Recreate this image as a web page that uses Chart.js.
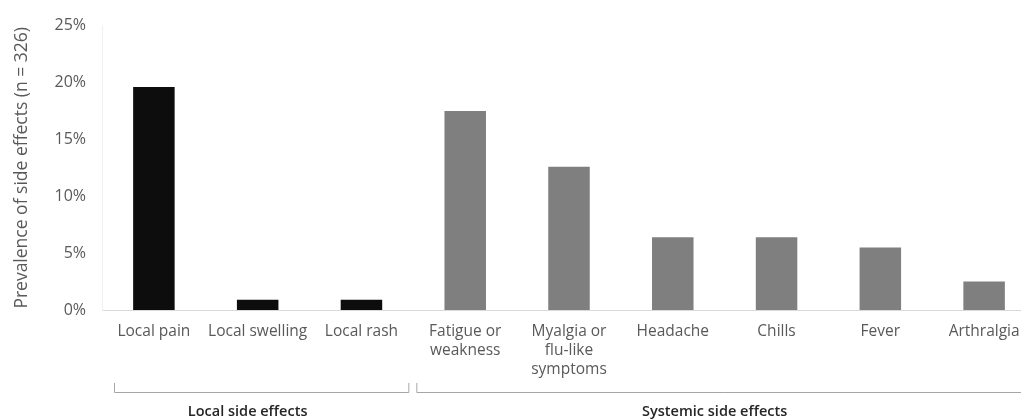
<!DOCTYPE html>
<html>
<head>
<meta charset="utf-8">
<script src="https://cdn.jsdelivr.net/npm/chart.js@4"></script>
<style>
  body { margin: 0; background: #fff; overflow: hidden; }
  #wrap { width: 1036px; height: 420px; }
</style>
</head>
<body>
<div id="wrap"><canvas id="sideEffects"></canvas></div>
<script>
// Prevalence of side effects (n = 326)
const categories = [
    'Local pain', 'Local swelling', 'Local rash',
    ['Fatigue or', 'weakness'], ['Myalgia or', 'flu-like', 'symptoms'],
    'Headache', 'Chills', 'Fever', 'Arthralgia'
];
const prevalence = [19.6, 0.9, 0.9, 17.5, 12.6, 6.4, 6.4, 5.5, 2.5];
const groupNames = ['Local side effects', 'Systemic side effects'];
const groupOf = [0, 0, 0, 1, 1, 1, 1, 1, 1];
const groupColors = ['#0d0d0d', '#7f7f7f'];
const yTicks = [0, 5, 10, 15, 20, 25];

const textGrey = '#595959';
const fontFamily = '"Open Sans", "Noto Sans", sans-serif';

// brackets + group names under the category labels
const groupBrackets = {
    id: 'groupBrackets',
    afterDraw(chart) {
        const ctx = chart.ctx;
        const x = chart.scales.x;
        const step = x.getPixelForValue(1) - x.getPixelForValue(0);
        const lineY = 392;
        ctx.save();
        groupNames.forEach((name, g) => {
            const idx = groupOf.map((v, i) => v === g ? i : -1).filter(i => i >= 0);
            const left = x.getPixelForValue(idx[0]) - step / 2;
            const right = x.getPixelForValue(idx[idx.length - 1]) + step / 2;
            const x1 = left + (g === 0 ? 12 : 3);
            const x2 = right - 5;
            ctx.strokeStyle = '#a6a6a6';
            ctx.lineWidth = 1;
            ctx.beginPath();
            ctx.moveTo(x1 + 0.5, lineY - 9);
            ctx.lineTo(x1 + 0.5, lineY + 0.5);
            ctx.lineTo(x2 + 0.5, lineY + 0.5);
            ctx.lineTo(x2 + 0.5, lineY - 9);
            ctx.stroke();
            ctx.fillStyle = '#262626';
            ctx.font = '600 14.5px ' + fontFamily;
            ctx.textAlign = 'center';
            ctx.textBaseline = 'middle';
            ctx.fillText(name, (left + right) / 2 - 10, 412);
        });
        ctx.restore();
    }
};

new Chart(document.getElementById('sideEffects'), {
    type: 'bar',
    data: {
        labels: categories,
        datasets: [{
            data: prevalence,
            backgroundColor: groupOf.map(g => groupColors[g]),
            borderWidth: 0,
            barPercentage: 0.4,
            categoryPercentage: 1
        }]
    },
    options: {
        responsive: true,
        maintainAspectRatio: false,
        animation: false,
        layout: { padding: { top: 19, right: 0, bottom: 0, left: 0 } },
        plugins: {
            legend: { display: false },
            tooltip: { enabled: false }
        },
        scales: {
            x: {
                grid: { display: false, drawTicks: false },
                border: { display: true, color: '#d9d9d9', width: 1 },
                ticks: {
                    color: textGrey,
                    font: { family: fontFamily, size: 15.5, lineHeight: 1.23 },
                    padding: 12,
                    maxRotation: 0,
                    autoSkip: false
                },
                afterFit(scale) { scale.height = 110; }
            },
            y: {
                min: 0,
                max: 25,
                afterBuildTicks(scale) { scale.ticks = yTicks.map(v => ({ value: v })); },
                grid: { display: false, drawTicks: false },
                border: { display: true, color: '#f0f0f0', width: 1 },
                ticks: {
                    color: textGrey,
                    font: { family: fontFamily, size: 16 },
                    padding: 16,
                    callback: v => v + '%'
                },
                title: {
                    display: true,
                    text: 'Prevalence of side effects (n = 326)',
                    color: textGrey,
                    font: { family: fontFamily, size: 17.5 },
                    padding: { top: 12, bottom: 0 }
                },
                afterFit(scale) { scale.width = 102; }
            }
        }
    },
    plugins: [groupBrackets]
});
</script>
</body>
</html>
